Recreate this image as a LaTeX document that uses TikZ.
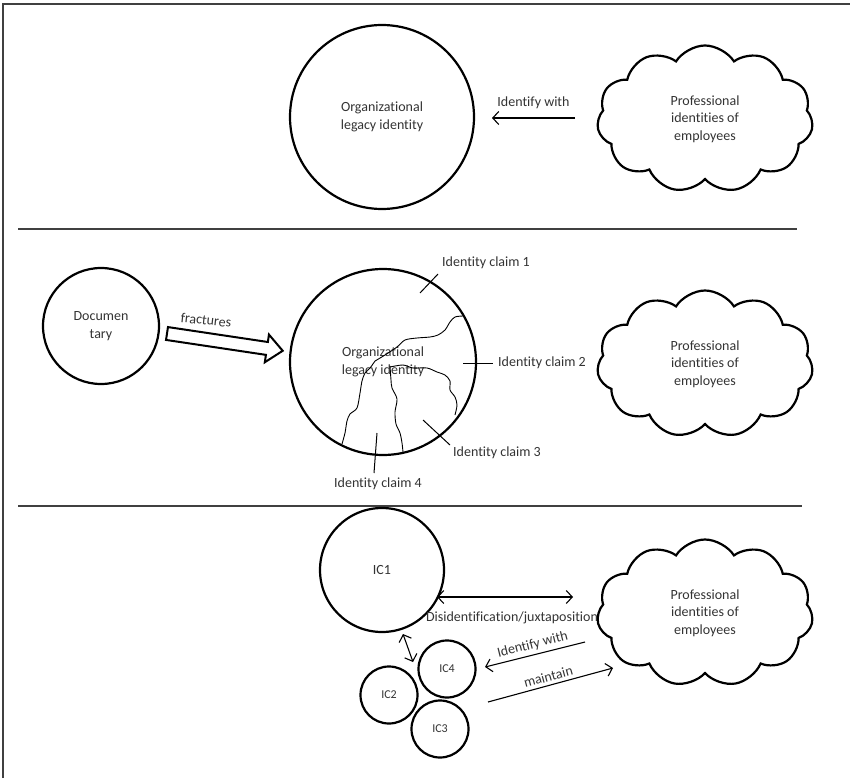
\documentclass[tikz,border=0pt]{standalone}
\usepackage{fontspec}
\setmainfont{Carlito}[Ligatures=NoCommon]
\usetikzlibrary{shapes.symbols,arrows.meta}

\tikzset{barb/.tip={Straight Barb[length=6pt,width=13pt,line width=1.1pt]}}

\begin{document}
\begin{tikzpicture}[x=1pt,y=-1pt,
    every node/.style={font=\fontsize{14}{17.5}\selectfont, text=black!80, align=center},
    idcircle/.style={draw, circle, line width=2.2pt, inner sep=0pt},
    smallic/.style={idcircle, minimum size=57pt, font=\fontsize{12}{14}\selectfont},
    idcloud/.style={draw, cloud, cloud puffs=11, cloud puff arc=115, cloud ignores aspect,
      line width=2.2pt, inner sep=0pt, minimum width=216pt, minimum height=147pt},
    thinarrow/.style={line width=1.1pt, -barb},
    twoarrow/.style={line width=1.1pt, barb-barb},
    sepline/.style={line width=1.4pt, black!75},
    crack/.style={line width=0.9pt},
    leader/.style={line width=1pt}]

    % Page and frame
    \useasboundingbox (0,0) rectangle (850,778);
    \draw[sepline] (3,778) -- (3,4) -- (850,4);

    % --- Top panel ---
    \node[idcircle, minimum size=184pt] (legacy) at (382,117) {Organizational\\legacy identity};
    \node[idcloud] (prof1) at (705,119) {Professional\\identities of\\employees};
    \coordinate (idw1s) at (575,118);
    \coordinate (idw1e) at (492,118);
    \draw[thinarrow] (idw1s) -- node[above=5pt] {Identify with} (idw1e);

    \draw[sepline] (18,229) -- (797,229);

    % --- Middle panel ---
    \node[idcircle, minimum size=116pt] (doc) at (101,326) {Documen\\tary};
    \node[idcircle, minimum size=186pt] (fract) at (383,362) {Organizational\\legacy identity};
    \node[idcloud] (prof2) at (705,364) {Professional\\identities of\\employees};

    % hollow arrow
    \begin{scope}[shift={(167,333.5)}, rotate=-8.5]
      \draw[line width=2pt, line join=miter]
        (0,-6.5) -- (101,-6.5) -- (101,-14) -- (117,0) -- (101,14) -- (101,6.5) -- (0,6.5) -- cycle;
    \end{scope}
    \node[rotate=-6] (fractlabel) at (206,320) {fractures};

    % cracks
    \draw[crack] plot[smooth] coordinates {(375,361) (385,355) (397,347) (405,340) (417,338)
      (430,337) (438,335) (445,330) (450,322) (455,317) (463,316)};
    \draw[crack] plot[smooth] coordinates {(390,367) (403,365) (413,368) (427,368) (437,372)
      (445,375) (450,381) (450,390) (455,397) (457,405) (455,415)};
    \draw[crack] plot[smooth] coordinates {(375,361) (370,368) (365,373) (362,381) (360,393)
      (357,408) (350,414) (347,421) (345,433) (342,444)};
    \draw[crack] plot[smooth] coordinates {(390,366) (391,380) (392,388) (397,399) (395,412)
      (396,424) (400,433) (402,443) (403,452)};

    % claims
    \node (claim1) at (486,263) {Identity claim 1};
    \node (claim2) at (542,363) {Identity claim 2};
    \node (claim3) at (497,453) {Identity claim 3};
    \node (claim4) at (378,484) {Identity claim 4};
    \coordinate (c1a) at (420,293); \coordinate (c1b) at (438,274);
    \coordinate (c2a) at (463,363); \coordinate (c2b) at (493,363);
    \coordinate (c3a) at (423,420); \coordinate (c3b) at (450,445);
    \coordinate (c4a) at (377,433); \coordinate (c4b) at (374,473);
    \draw[leader] (c1a) -- (c1b);
    \draw[leader] (c2a) -- (c2b);
    \draw[leader] (c3a) -- (c3b);
    \draw[leader] (c4a) -- (c4b);

    \draw[sepline] (18,506) -- (802,506);

    % --- Bottom panel ---
    \node[idcircle, minimum size=124pt] (ic1) at (382,570) {IC1};
    \node[smallic] (ic4) at (447,669) {IC4};
    \node[smallic] (ic2) at (389,695) {IC2};
    \node[smallic] (ic3) at (440,729) {IC3};
    \node[idcloud] (prof3) at (705,613) {Professional\\identities of\\employees};

    \coordinate (disa) at (437,597);
    \coordinate (disb) at (573,597);
    \draw[twoarrow] (disa) -- (disb);
    \node (dislabel) at (512,618) {Disidentification/juxtaposition};

    \coordinate (linka) at (403,634);
    \coordinate (linkb) at (413,662);
    \draw[twoarrow] (linka) -- (linkb);

    \coordinate (idw3s) at (585,642);
    \coordinate (idw3e) at (485,667);
    \draw[thinarrow] (idw3s) -- node[above, sloped] {Identify with} (idw3e);

    \coordinate (mta) at (488,702);
    \coordinate (mtb) at (613,668);
    \draw[thinarrow] (mta) -- node[above, sloped] {maintain} (mtb);
\end{tikzpicture}
\end{document}
